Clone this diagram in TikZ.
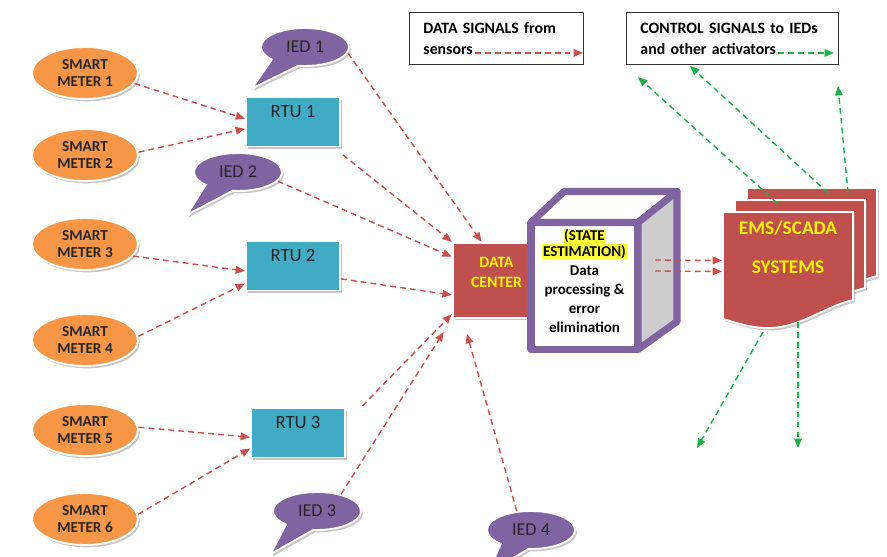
\documentclass[tikz,border=0pt]{standalone}
\usepackage{fontspec}
\setmainfont{Carlito}
\usetikzlibrary{shapes.geometric, shapes.callouts, shadows, positioning,
 calc, arrows.meta}
\definecolor{mtrorange}{HTML}{F79646}
\definecolor{rtublue}{HTML}{41AAC4}
\definecolor{iedpurple}{HTML}{8064A2}
\definecolor{dcred}{HTML}{C0504D}
\definecolor{sigred}{HTML}{C9504D}
\definecolor{ctrlgreen}{HTML}{1DB04B}
\definecolor{txtyellow}{HTML}{FFF200}
\definecolor{hlyellow}{HTML}{FFFF3C}
\definecolor{cubegray}{HTML}{CDCDCD}
\newcommand\wmtr{3.18cm}
\newcommand\hmtr{1.56cm}
\newcommand\wrtu{2.82cm}
\newcommand\hrtu{1.47cm}
\newcommand\wied{2.64cm}
\newcommand\hied{1.14cm}
\newcommand\bordw{1.6pt}
\newcommand\emsdoc[1]{\draw[doc, shift={#1}] (0,0) -- (130,0) -- (130,88)
  .. controls (100,95) and (75,118) .. (40,116)
  .. controls (25,115) and (10,110) .. (0,107) -- cycle;}
\setlength{\fboxsep}{0.6pt}
\tikzset{
  softshadow/.style={drop shadow={shadow xshift=1.6pt, shadow yshift=-2pt, fill=black!45, opacity=.5}},
  mtr/.style={ellipse, draw=white, line width=\bordw, fill=mtrorange, softshadow,
    minimum width=\wmtr, minimum height=\hmtr, inner sep=1pt, align=center,
    text=black!85, font=\bfseries\fontsize{13}{14.5}\selectfont},
  rtu/.style={rectangle, draw=white, line width=\bordw, fill=rtublue, softshadow,
    minimum width=\wrtu, minimum height=\hrtu, text height=11pt, text depth=18pt,
    text=black!85, font=\fontsize{16}{18}\selectfont},
  ied/.style={ellipse callout, draw=white, line width=\bordw, fill=iedpurple, softshadow,
    minimum width=\wied, minimum height=\hied, callout pointer arc=40, inner sep=1pt,
    text=black!85, font=\fontsize{15.5}{17}\selectfont},
  dcbox/.style={rectangle, draw=white, line width=2pt, fill=dcred, softshadow,
    minimum width=2.61cm, minimum height=2.25cm, align=center, text depth=14pt,
    text=txtyellow, font=\bfseries\fontsize{13.5}{17}\selectfont},
  cube/.style={draw=iedpurple, line width=6pt, line join=round},
  doc/.style={draw=white, line width=\bordw, fill=dcred, softshadow},
  sig/.style={color=sigred, line width=1.2pt, dash pattern=on 5pt off 3.5pt,
    -{Triangle[length=8pt,width=6.5pt]}},
  ctrl/.style={sig, color=ctrlgreen},
  legend/.style={draw=black!80, line width=0.8pt, anchor=north west, align=left,
    inner xsep=0.42cm, inner ysep=0pt, minimum height=1.56cm,
    font=\bfseries\fontsize{13.5}{18}\selectfont}
}

\begin{document}
\begin{tikzpicture}[x=0.03cm, y=-0.03cm]
    \useasboundingbox (0,0) rectangle (887,557);

    \node (sm1) [mtr] at (85,73) {SMART\\METER 1};
    \node (sm2) [mtr] at (85,155) {SMART\\METER 2};
    \node (sm3) [mtr] at (85,244) {SMART\\METER 3};
    \node (sm4) [mtr] at (85,340) {SMART\\METER 4};
    \node (sm5) [mtr] at (85,430) {SMART\\METER 5};
    \node (sm6) [mtr] at (85,519) {SMART\\METER 6};

    \node (rtu1) [rtu] at (293,122) {RTU 1};
    \node (rtu2) [rtu] at (293,266) {RTU 2};
    \node (rtu3) [rtu] at (298,433) {RTU 3};

    \node (ied1) [ied, callout relative pointer={(-32,25)}] at (305,47) {IED 1};
    \node (ied2) [ied, callout relative pointer={(-31,26)}] at (238,172) {IED 2};
    \node (ied3) [ied, callout relative pointer={(-28,26)}] at (317,511) {IED 3};
    \node (ied4) [ied, callout relative pointer={(-26,26)}] at (531,530) {IED 4};

    \node (dc) [dcbox] at (496.5,280.5) {DATA\\CENTER};

    % processing cube
    \node (est) [cube, fill=white, outer sep=0pt, minimum width=3.21cm, minimum height=3.81cm,
      inner sep=1pt, align=center, text depth=9pt, font=\bfseries\fontsize{12.8}{16.3}\selectfont] at (584.5,286)
      {\colorbox{hlyellow}{(STATE}\\[-3pt]\colorbox{hlyellow}{ESTIMATION)}\\Data\\processing \&\\error\\elimination};
    \draw[cube, fill=white] (est.north west) -- ++(33,-31) -- ($(est.north east)+(39,-31)$) -- (est.north east) -- cycle;
    \draw[cube, fill=cubegray] (est.north east) -- ++(39,-31) -- ++(0,130) -- (est.south east) -- cycle;

    % EMS/SCADA pages
    \emsdoc{(747,188)}
    \emsdoc{(735,200)}
    \emsdoc{(723,212)}
    \node (ems) [align=center, text=txtyellow, font=\bfseries\fontsize{16.5}{19}\selectfont] at (788,247) {EMS/SCADA\\[14pt]SYSTEMS};

    \node (lg1) [legend, text width=4.38cm] at (409,12) {DATA SIGNALS from\\sensors};
    \node (lg2) [legend, text width=5.52cm] at (626,12) {CONTROL SIGNALS to IEDs\\and other activators};

    \draw[sig] (sm1.-12) -- (rtu1.176);
    \draw[sig] (sm2.3) -- (rtu1.188);
    \draw[sig] (sm3.-14) -- (rtu2.186);
    \draw[sig] (sm4.4) -- (rtu2.200);
    \draw[sig] (sm5.3) -- (rtu3.185);
    \draw[sig] (sm6.5) -- (rtu3.198);

    \draw[sig, shorten <=10pt] (rtu1.-32) -- (dc.north west);
    \draw[sig] (ied1.-8) -- (dc.111);
    \draw[sig] (ied2.-13) -- (dc.152);
    \draw[sig] (rtu2.-15) -- (dc.198);
    \draw[sig, shorten <=20pt] (rtu3.12) -- (dc.217);
    \draw[sig, shorten >=13pt] (ied3.35) -- (dc.south west);
    \draw[sig, shorten >=13pt] (ied4.127) -- ($(dc.south west)+(11,0)$);

    \coordinate (c1) at ($(est.east)+(17,-26)$);
    \coordinate (c2) at ($(est.east)+(17,-15)$);
    \coordinate (e1) at (722,260.5);
    \coordinate (e2) at (722,271.5);
    \draw[sig] (c1) -- (e1);
    \draw[sig] (c2) -- (e2);

    \coordinate (g1s) at (777,203);
    \coordinate (g1e) at (638,77);
    \coordinate (g2s) at (828,193);
    \coordinate (g2e) at (690,66);
    \coordinate (g3s) at (848,193);
    \coordinate (g3e) at (838,86);
    \coordinate (g4s) at (763,332);
    \coordinate (g4e) at (697,448);
    \coordinate (g5s) at (798,322);
    \coordinate (g5e) at (798,448);
    \draw[ctrl] (g1s) -- (g1e);
    \draw[ctrl] (g2s) -- (g2e);
    \draw[ctrl] (g3s) -- (g3e);
    \draw[ctrl] (g4s) -- (g4e);
    \draw[ctrl] (g5s) -- (g5e);

    \draw[sig] ($(lg1.south west)+(66,-12)$) -- ($(lg1.south east)+(-1,-12)$);
    \draw[ctrl] ($(lg2.south west)+(152,-12)$) -- ($(lg2.south east)+(-5,-12)$);

\end{tikzpicture}
\end{document}
